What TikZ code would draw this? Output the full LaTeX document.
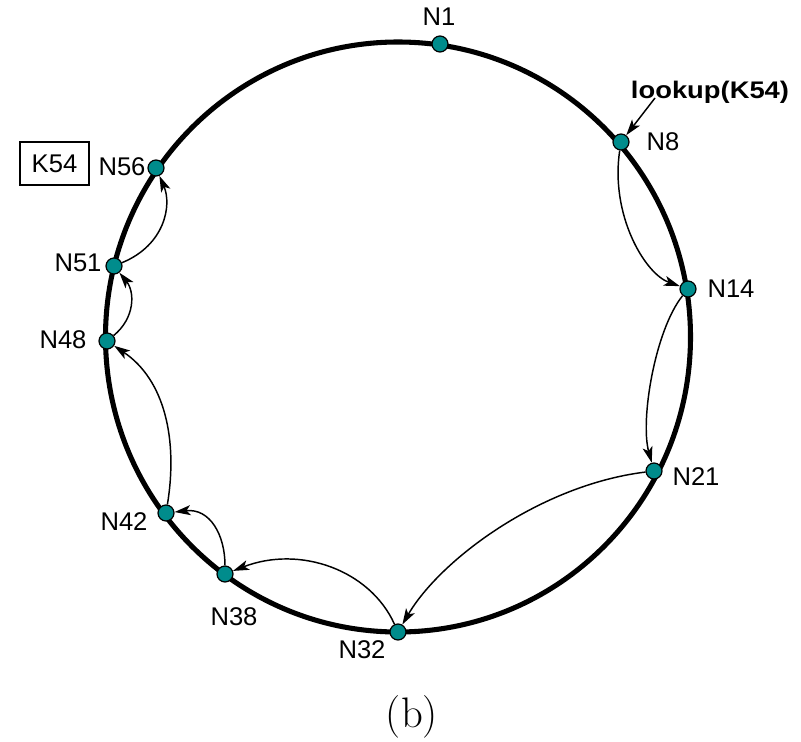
\documentclass[tikz,border=0pt]{standalone}
\usepackage{fontspec}
\newfontfamily\arial{Liberation Sans}
\usetikzlibrary{arrows.meta}
\definecolor{dotteal}{RGB}{0,140,140}
\tikzset{
  dot/.style={circle,draw=black,line width=0.9pt,fill=dotteal,minimum size=12pt,inner sep=0pt},
  lbl/.style={font=\arial\fontsize{19.2}{20}\selectfont,inner sep=0pt},
  hop/.style={line width=1.1pt,-{Stealth[length=12pt,width=7.5pt,inset=3pt]}},
  ring/.style={line width=3.8pt}
}
\begin{document}
\begin{tikzpicture}[x=0.75pt,y=-0.75pt]
\useasboundingbox (0,0) rectangle (801,742);
\draw[ring] (398,337) ellipse [x radius=292.5, y radius=295];
% nodes
\node[dot] (n1) at (440,44) {};
\node[dot] (n8) at (621,142) {};
\node[dot] (n14) at (688,289) {};
\node[dot] (n21) at (654,471) {};
\node[dot] (n32) at (398,632) {};
\node[dot] (n38) at (225,574) {};
\node[dot] (n42) at (166,513) {};
\node[dot] (n48) at (107,341) {};
\node[dot] (n51) at (114,266) {};
\node[dot] (n56) at (156,168) {};
% labels
\node[lbl] (l1) at (439,17) {N1};
\node[lbl] (l8) at (663,142) {N8};
\node[lbl] (l14) at (731,289) {N14};
\node[lbl] (l21) at (696,477) {N21};
\node[lbl] (l32) at (362,650) {N32};
\node[lbl] (l38) at (234,617) {N38};
\node[lbl] (l42) at (124,522) {N42};
\node[lbl] (l48) at (63,340) {N48};
\node[lbl] (l51) at (78,263) {N51};
\node[lbl] (l56) at (122,167) {N56};
\node[draw,line width=1.1pt,inner sep=0pt,minimum width=51.75pt,minimum height=32.25pt,font=\arial\fontsize{19.2}{20}\selectfont] (k54) at (54.5,163.5) {K54};
\node[inner sep=0pt,font=\arial\bfseries\fontsize{18}{20}\selectfont,xscale=1.14] (lookup) at (710,92) {lookup(K54)};
\node[inner sep=0pt,font=\fontsize{32}{34}\selectfont] (b) at (412,717) {(b)};
% arrows
\coordinate (ls) at (655,98);
\draw[hop] (ls) -- (n8);
\draw[hop] (n8) .. controls (610,215) and (645,274) .. (n14);
\draw[hop] (n14) .. controls (655,330) and (640,420) .. (n21);
\draw[hop] (n21) .. controls (540,485) and (440,560) .. (n32);
\draw[hop] (n32) .. controls (370,570) and (300,545) .. (n38);
\draw[hop] (n38) .. controls (225,535) and (210,508) .. (n42);
\draw[hop] (n42) .. controls (178,440) and (165,380) .. (n48);
\draw[hop] (n48) .. controls (135,318) and (135,292) .. (n51);
\draw[hop] (n51) .. controls (165,245) and (172,205) .. (n56);
\end{tikzpicture}
\end{document}
